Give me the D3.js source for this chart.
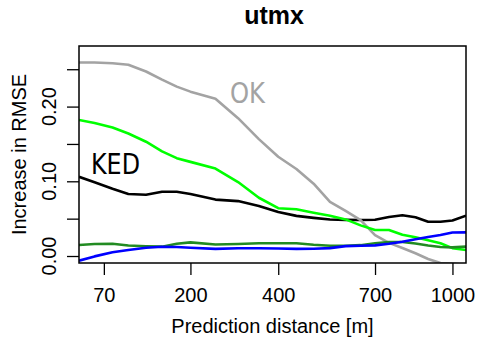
<!DOCTYPE html>
<html>
<head>
<meta charset="utf-8">
<script src="https://cdn.jsdelivr.net/npm/d3@7"></script>
<style>
  body { margin: 0; background: #fff; }
  text { font-family: "Liberation Sans", Arial, sans-serif; }
</style>
</head>
<body>
<div id="chart"></div>
<script>
// Plot size and margin (plot region in pixels)
var svgWidth = 477;
var svgHeight = 339;
var margin = { top: 46, bottom: 76, left: 79, right: 11 };
var chartWidth = svgWidth - margin.left - margin.right;
var chartHeight = svgHeight - margin.top - margin.bottom;

// Data: prediction distance bins [m]
var distance = [45, 60, 80, 100, 125, 150, 175, 200, 250, 300, 350, 400, 450,
  500, 550, 600, 650, 700, 750, 800, 850, 900, 950, 1000, 1058];

// Increase in RMSE per method
var ok = [0.259, 0.259, 0.258, 0.256, 0.247, 0.236, 0.2267, 0.220, 0.2106, 0.1845,
  0.1565, 0.1328, 0.1165, 0.0968, 0.0725, 0.0603, 0.048, 0.028, 0.0176, 0.0108,
  0.0037, -0.004, -0.0095, -0.010, -0.012];
var ked = [0.106, 0.0987, 0.090, 0.083, 0.082, 0.086, 0.086, 0.083, 0.0755, 0.0735,
  0.067, 0.0588, 0.0537, 0.051, 0.0488, 0.0483, 0.0481, 0.0486, 0.0523, 0.0546,
  0.0518, 0.0459, 0.0459, 0.0475, 0.054];
var lime = [0.182, 0.178, 0.172, 0.164, 0.153, 0.140, 0.131, 0.126, 0.117, 0.099,
  0.078, 0.064, 0.0625, 0.058, 0.054, 0.049, 0.041, 0.0348, 0.0348, 0.0285,
  0.025, 0.021, 0.017, 0.0105, 0.008];
var darkgreen = [0.0147, 0.016, 0.0163, 0.014, 0.013, 0.0125, 0.0165, 0.0183, 0.0155, 0.016,
  0.017, 0.017, 0.017, 0.015, 0.0138, 0.0138, 0.0145, 0.017, 0.0188, 0.0188,
  0.0167, 0.014, 0.012, 0.0116, 0.0125];
var blue = [-0.0063, -0.0005, 0.005, 0.008, 0.011, 0.0124, 0.012, 0.011, 0.0095, 0.0103,
  0.0103, 0.0101, 0.0095, 0.0098, 0.0106, 0.0132, 0.0138, 0.0142, 0.0164, 0.019,
  0.0225, 0.0255, 0.028, 0.0314, 0.0316];

var xTicks = [70, 200, 400, 700, 1000];
var yTicks = [0, 0.05, 0.10, 0.15, 0.20, 0.25];
var yLabels = [0, 0.10, 0.20];

var series = [
  { values: ked, color: "#000000" },
  { values: ok, color: "#a3a3a3" },
  { values: lime, color: "#00ff00" },
  { values: darkgreen, color: "#228b22" },
  { values: blue, color: "#0000ff" }
];

var svg = d3.select("#chart")
  .append("svg")
  .attr("width", svgWidth)
  .attr("height", svgHeight);

var chartGroup = svg.append("g")
  .attr("transform", `translate(${margin.left}, ${margin.top})`);

// Scales
var xScale = d3.scaleSqrt()
  .domain([45, 1058])
  .range([0, chartWidth]);

var yScale = d3.scaleLinear()
  .domain([-0.00936, 0.2811])
  .range([chartHeight, 0]);

// Clip lines to the plot region
svg.append("defs").append("clipPath")
  .attr("id", "plotClip")
  .append("rect")
  .attr("width", chartWidth)
  .attr("height", chartHeight);

var line = d3.line()
  .x((d, i) => xScale(distance[i]))
  .y(d => yScale(d));

var linesGroup = chartGroup.append("g").attr("clip-path", "url(#plotClip)");

series.forEach(function(s) {
  linesGroup.append("path")
    .datum(s.values)
    .attr("d", line)
    .attr("fill", "none")
    .attr("stroke", s.color)
    .attr("stroke-width", 2.6)
    .attr("stroke-linejoin", "round");
});

// X axis
var bottomAxis = d3.axisBottom(xScale)
  .tickValues(xTicks)
  .tickSize(12)
  .tickPadding(13)
  .tickFormat(d3.format("d"));

var xAxis = chartGroup.append("g")
  .attr("transform", `translate(0, ${chartHeight})`)
  .call(bottomAxis);
xAxis.select(".domain").remove();
xAxis.selectAll("line").attr("stroke-width", 1.3);
xAxis.selectAll("text").style("font-size", "20px").attr("fill", "#000");

// Y axis
var leftAxis = d3.axisLeft(yScale)
  .tickValues(yTicks)
  .tickSize(12)
  .tickFormat("");

var yAxis = chartGroup.append("g").call(leftAxis);
yAxis.select(".domain").remove();
yAxis.selectAll("line").attr("stroke-width", 1.3);

chartGroup.append("g")
  .selectAll("text")
  .data(yLabels)
  .enter()
  .append("text")
  .attr("transform", d => `translate(-23, ${yScale(d)}) rotate(-90)`)
  .attr("text-anchor", "middle")
  .style("font-size", "20px")
  .text(d => d3.format(".2f")(d));

// Box
chartGroup.append("rect")
  .attr("width", chartWidth)
  .attr("height", chartHeight)
  .attr("fill", "none")
  .attr("stroke", "#000")
  .attr("stroke-width", 1.5);

// Line labels (condensed font, squeezed to the reference width)
chartGroup.append("text")
  .attr("x", 230 - margin.left)
  .attr("y", 103 - margin.top)
  .attr("fill", "#a3a3a3")
  .attr("textLength", 35)
  .attr("lengthAdjust", "spacingAndGlyphs")
  .style("font-family", "'DejaVu Sans', sans-serif")
  .style("font-size", "29px")
  .text("OK");

chartGroup.append("text")
  .attr("x", 91 - margin.left)
  .attr("y", 174 - margin.top)
  .attr("fill", "#000")
  .attr("textLength", 49)
  .attr("lengthAdjust", "spacingAndGlyphs")
  .style("font-family", "'DejaVu Sans', sans-serif")
  .style("font-size", "29px")
  .text("KED");

// Title and axis labels
svg.append("text")
  .attr("x", 274)
  .attr("y", 24)
  .attr("text-anchor", "middle")
  .style("font-size", "25px")
  .style("font-weight", "bold")
  .text("utmx");

svg.append("text")
  .attr("x", margin.left + chartWidth / 2)
  .attr("y", 333)
  .attr("text-anchor", "middle")
  .style("font-size", "20px")
  .text("Prediction distance [m]");

svg.append("text")
  .attr("transform", `translate(26, ${margin.top + chartHeight / 2}) rotate(-90)`)
  .attr("text-anchor", "middle")
  .style("font-size", "20px")
  .text("Increase in RMSE");
</script>
</body>
</html>
